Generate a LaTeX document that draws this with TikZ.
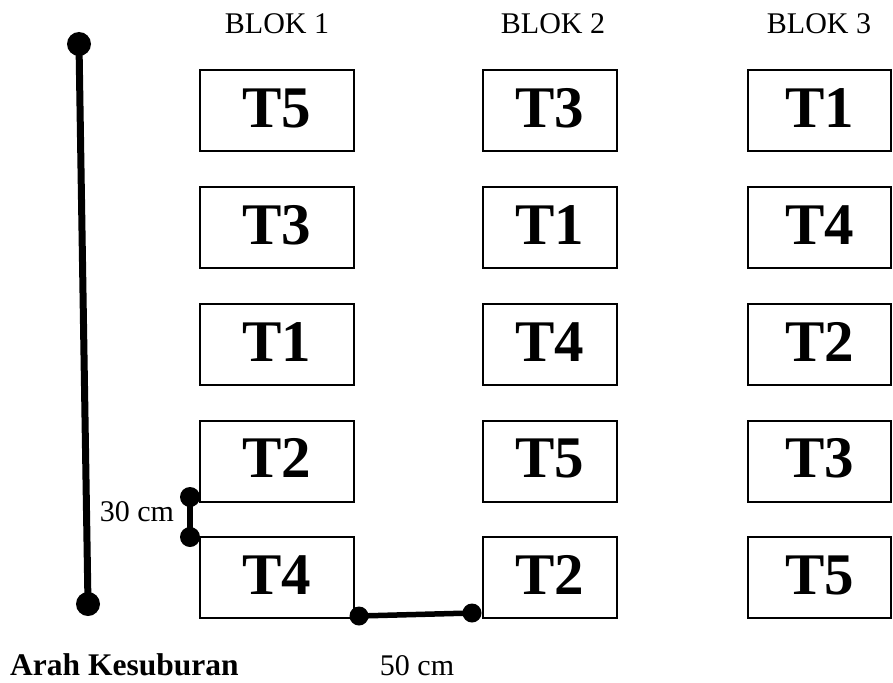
\documentclass[tikz,border=0pt]{standalone}
\usepackage{fontspec}
\setmainfont{Liberation Serif}
\begin{document}
\begin{tikzpicture}[x=1pt,y=-1pt,
  plot/.style={draw,line width=2pt,minimum height=81pt,inner sep=0pt,
    font=\fontsize{59}{61}\selectfont\bfseries,text height=33pt,text depth=0pt},
  w1/.style={minimum width=154pt},
  w2/.style={minimum width=134pt},
  w3/.style={minimum width=143pt},
  lbl/.style={inner sep=0pt,anchor=base,font=\fontsize{30}{32}\selectfont},
  bdot/.style={circle,fill=black,inner sep=0pt,minimum size=24pt},
  sdot/.style={circle,fill=black,inner sep=0pt,minimum size=20pt},
  tdot/.style={circle,fill=black,inner sep=0pt,minimum size=19pt}]
\useasboundingbox (0,0) rectangle (893,682);
% block labels
\node[lbl] (b1) at (277,34) {BLOK 1};
\node[lbl] (b2) at (553,34) {BLOK 2};
\node[lbl] (b3) at (819,34) {BLOK 3};
% block 1
\node[plot,w1] (a1) at (277,110.5) {T5};
\node[plot,w1] (a2) at (277,227.5) {T3};
\node[plot,w1] (a3) at (277,344.5) {T1};
\node[plot,w1] (a4) at (277,461) {T2};
\node[plot,w1] (a5) at (277,577.5) {T4};
% block 2
\node[plot,w2] (c1) at (550,110.5) {T3};
\node[plot,w2] (c2) at (550,227.5) {T1};
\node[plot,w2] (c3) at (550,344.5) {T4};
\node[plot,w2] (c4) at (550,461) {T5};
\node[plot,w2] (c5) at (550,577.5) {T2};
% block 3
\node[plot,w3] (d1) at (819.5,110.5) {T1};
\node[plot,w3] (d2) at (819.5,227.5) {T4};
\node[plot,w3] (d3) at (819.5,344.5) {T2};
\node[plot,w3] (d4) at (819.5,461) {T3};
\node[plot,w3] (d5) at (819.5,577.5) {T5};
% fertility direction line
\node[bdot] (f1) at (79,44) {};
\node[bdot] (f2) at (88,604) {};
\draw[line width=7pt] (f1.center) -- (f2.center);
% 30 cm
\node[sdot] (s1) at (190,497) {};
\node[sdot] (s2) at (190,537) {};
\draw[line width=6pt] (s1.center) -- (s2.center);
\node[lbl] (t30) at (137,521) {30 cm};
% 50 cm
\node[tdot] (h1) at (359,616) {};
\node[tdot] (h2) at (472,613) {};
\draw[line width=5.5pt] (h1.center) -- (h2.center);
\node[lbl,text depth=0pt] (t50) at (417,675) {50 cm};
% legend
\node[lbl,anchor=base west,text depth=0pt,font=\fontsize{31.5}{33}\selectfont\bfseries] (arah) at (10,675) {Arah Kesuburan};
\end{tikzpicture}
\end{document}
